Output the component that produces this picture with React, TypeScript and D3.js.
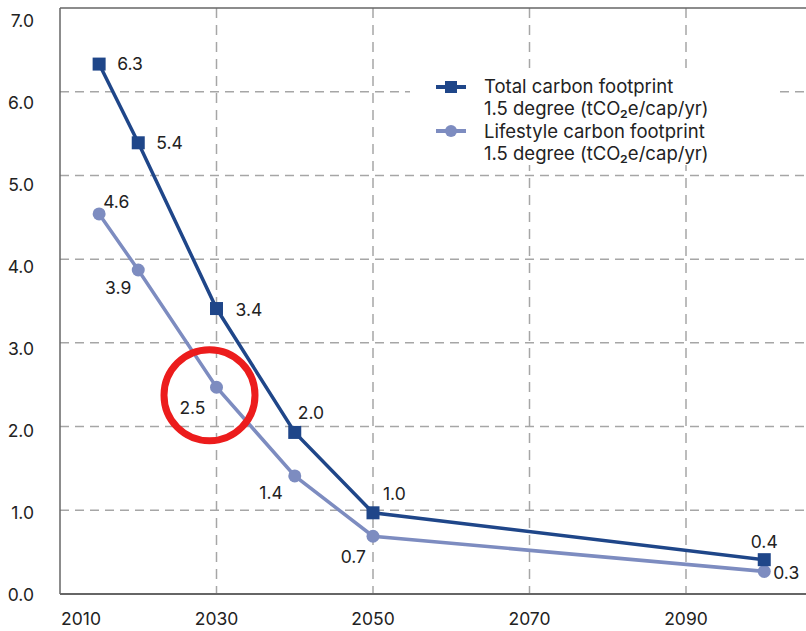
import React from "react";
import * as d3 from "d3";

const years = [2015, 2020, 2030, 2040, 2050, 2100];
const totalValues = [6.33, 5.39, 3.41, 1.93, 0.97, 0.41];
const lifestyleValues = [4.54, 3.87, 2.47, 1.41, 0.69, 0.27];
const totalLabels = ["6.3", "5.4", "3.4", "2.0", "1.0", "0.4"];
const lifestyleLabels = ["4.6", "3.9", "2.5", "1.4", "0.7", "0.3"];
const xTicks = [2010, 2030, 2050, 2070, 2090];
const yTicks = [0, 1, 2, 3, 4, 5, 6, 7];
const legendLines = [
  ["Total carbon footprint", "1.5 degree (tCO₂e/cap/yr)"],
  ["Lifestyle carbon footprint", "1.5 degree (tCO₂e/cap/yr)"],
];

// label placement offsets (style)
const totalLabelPos: [number, number, string][] = [
  [18, 0, "start"], [18, 0, "start"], [19, 1, "start"], [3, -20, "start"], [10, -19, "start"], [0, -18, "middle"],
];
const lifeLabelPos: [number, number, string][] = [
  [4, -12, "start"], [-7, 18, "end"], [-11, 20, "end"], [-12, 17, "end"], [-7, 20, "end"], [9, 1, "start"],
];

const W = 806, H = 631;
const DARK = "#1f4689";
const LIGHT = "#7d8cc0";
const FONT = "Inter, 'Noto Sans', sans-serif";
const FS = 17.5;

export default function App() {
  const x = d3.scaleLinear().domain([2010, 2090]).range([60, 686]);
  const y = d3.scaleLinear().domain([0, 7]).range([594, 8]);
  const yLab = d3.scaleLinear().domain([0, 7]).range([595, 21]);
  const line = d3.line<number>().x((_, i) => x(years[i])).y((d) => y(d));

  return (
    <svg width={W} height={H} style={{ position: "absolute", left: 0, top: 0, background: "#fff" }} fontFamily={FONT}>
      {/* horizontal gridlines */}
      {yTicks.filter((t) => t > 0 && t < 7).map((t) => (
        <line key={"h" + t} x1={60} x2={W} y1={y(t)} y2={y(t)} stroke="#a6a6a6" strokeWidth={1.5} strokeDasharray="9 6" />
      ))}
      {/* vertical gridlines */}
      {xTicks.filter((t) => t > 2010).map((t) => (
        <line key={"v" + t} x1={x(t)} x2={x(t)} y1={y(7)} y2={y(0)} stroke="#a6a6a6" strokeWidth={1.5} strokeDasharray="10 7" />
      ))}
      {/* frame */}
      <line x1={60} x2={W} y1={y(7)} y2={y(7)} stroke="#666" strokeWidth={1.5} />
      <line x1={60} x2={60} y1={y(7)} y2={y(0)} stroke="#666" strokeWidth={1.5} />
      <line x1={60} x2={W} y1={y(0)} y2={y(0)} stroke="#666" strokeWidth={2} />
      {/* y tick labels */}
      {yTicks.map((t) => (
        <text key={"yl" + t} x={34} y={yLab(t)} dy="0.36em" textAnchor="end" fontSize={FS} fill="#222">
          {t.toFixed(1)}
        </text>
      ))}
      {/* x tick labels */}
      {xTicks.map((t) => (
        <text key={"xl" + t} x={x(t) + (t === 2010 ? 21 : 0)} y={625} textAnchor="middle" fontSize={FS} fill="#222">
          {t}
        </text>
      ))}
      {/* legend */}
      <rect x={410} y={68} width={365} height={97} fill="#fff" />
      <line x1={436} x2={466} y1={87} y2={87} stroke={DARK} strokeWidth={4} />
      <rect x={445} y={81} width={12} height={12} fill={DARK} />
      <line x1={436} x2={466} y1={131} y2={131} stroke={LIGHT} strokeWidth={4} />
      <circle cx={451} cy={131} r={6} fill={LIGHT} />
      {legendLines.map((pair, i) =>
        pair.map((s, j) => (
          <text key={"lg" + i + j} x={484} y={86 + i * 45 + j * 22.5} dy="0.36em" fontSize={18.5} fill="#222">
            {s}
          </text>
        ))
      )}
      {/* lifestyle series */}
      <path d={line(lifestyleValues) || ""} fill="none" stroke={LIGHT} strokeWidth={3.5} />
      {lifestyleValues.map((v, i) => (
        <circle key={"lc" + i} cx={x(years[i])} cy={y(v)} r={6.5} fill={LIGHT} />
      ))}
      {/* total series */}
      <path d={line(totalValues) || ""} fill="none" stroke={DARK} strokeWidth={3.5} />
      {totalValues.map((v, i) => (
        <rect key={"tr" + i} x={x(years[i]) - 6.5} y={y(v) - 6.5} width={13} height={13} fill={DARK} />
      ))}
      {/* labels */}
      {totalValues.map((v, i) => (
        <text key={"tl" + i} x={x(years[i]) + totalLabelPos[i][0]} y={y(v) + totalLabelPos[i][1]} dy="0.36em"
          textAnchor={totalLabelPos[i][2] as any} fontSize={FS} fill="#222">
          {totalLabels[i]}
        </text>
      ))}
      {lifestyleValues.map((v, i) => (
        <text key={"ll" + i} x={x(years[i]) + lifeLabelPos[i][0]} y={y(v) + lifeLabelPos[i][1]} dy="0.36em"
          textAnchor={lifeLabelPos[i][2] as any} fontSize={FS} fill="#222">
          {lifestyleLabels[i]}
        </text>
      ))}
      {/* red highlight circle */}
      <circle cx={x(years[2]) - 7} cy={y(lifestyleValues[2]) + 8} r={45.5} fill="none" stroke="#ec1c1c" strokeWidth={7} />
    </svg>
  );
}
